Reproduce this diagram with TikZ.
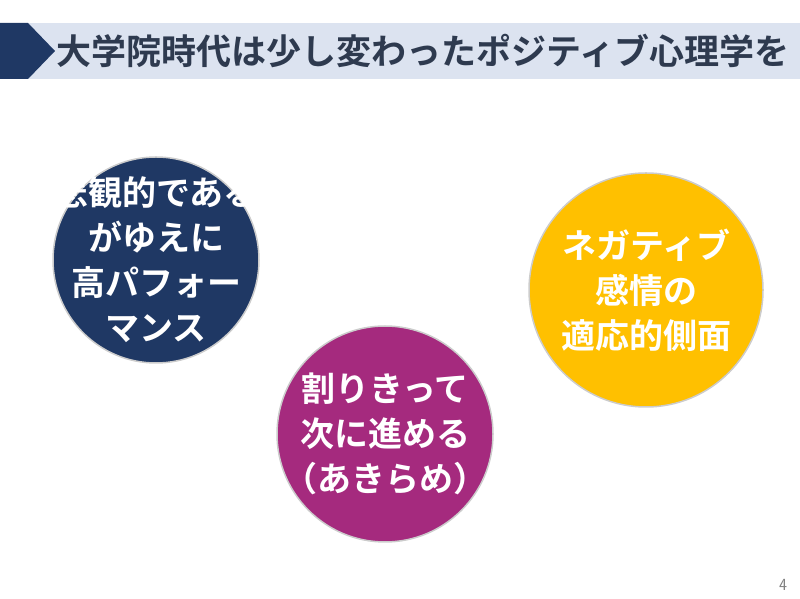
\documentclass[tikz,border=0pt]{standalone}
\usepackage{fontspec}
\newfontfamily\jp{Noto Sans CJK JP Bold}
\begin{document}
\begin{tikzpicture}[x=1pt,y=1pt,
 circ/.style={circle,minimum size=#1,inner sep=0pt,draw=white!80!black,line width=1.5pt},
 ctext/.style={inner sep=0pt,align=center,text=white,font=\jp\fontsize{34}{45}\selectfont}]
\useasboundingbox (0,0) rectangle (800,599);
\fill[fill={rgb,255:red,220;green,227;blue,240}] (0,520) rectangle (800,576);
\fill[fill={rgb,255:red,31;green,56;blue,100}] (0,576) -- (28,576) -- (55,548) -- (28,520) -- (0,520) -- cycle;
\node[anchor=west,text={rgb,255:red,46;green,58;blue,79},font=\jp\fontsize{35}{40}\selectfont,inner sep=0pt] (title) at (56,548) {大学院時代は少し変わったポジティブ心理学を};
\node[circ=206pt,fill={rgb,255:red,31;green,56;blue,100}] (a) at (156,339) {};
\node[ctext] (at) at (a.center) {悲観的である\\がゆえに\\高パフォー\\マンス};
\node[circ=216pt,fill={rgb,255:red,165;green,42;blue,126}] (b) at (385,165) {};
\node[ctext] (bt) at (b.center) {割りきって\\次に進める\\（あきらめ）};
\node[circ=234pt,fill={rgb,255:red,255;green,192;blue,0}] (c) at (646,309) {};
\node[ctext] (ct) at (c.center) {ネガティブ\\感情の\\適応的側面};
\node[text=gray,font=\sffamily\fontsize{17}{18}\selectfont] (p) at (783,14) {4};
\end{tikzpicture}
\end{document}
